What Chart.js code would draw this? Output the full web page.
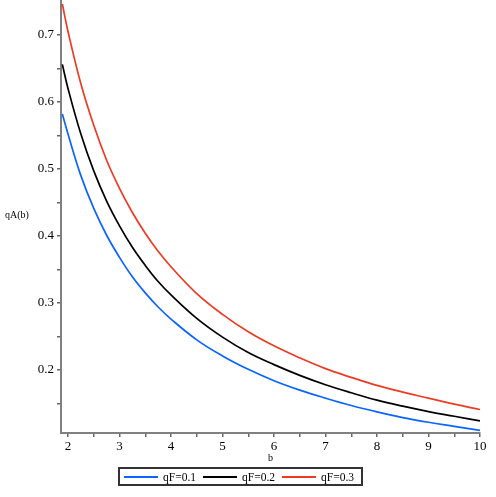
<!DOCTYPE html>
<html>
<head>
<meta charset="utf-8">
<script src="https://cdn.jsdelivr.net/npm/chart.js@4/dist/chart.umd.min.js"></script>
<style>
  html, body { margin: 0; padding: 0; background: #fff; }
  #wrap { position: relative; width: 496px; height: 497px; }
  #legend {
    position: absolute; left: 118px; top: 467px; width: 241px; height: 15px;
    border: 2px solid #333; display: flex; align-items: center;
    font-family: "Liberation Serif", serif; font-size: 11.5px; color: #000;
    white-space: nowrap; overflow: hidden;
  }
  #legend .item { display: flex; align-items: center; margin-left: 4px; margin-right: 3px; }
  #legend .swatch { width: 34px; height: 2px; margin-right: 5px; }
</style>
</head>
<body>
<div id="wrap">
  <canvas id="qa_chart" width="496" height="497"></canvas>
  <div id="legend"></div>
</div>
<script>
// values
const bValues = [1.89, 2, 2.25, 2.5, 2.75, 3, 3.25, 3.5, 3.75, 4, 4.5, 5, 5.5, 6, 6.5, 7, 7.5, 8, 8.5, 9, 9.5, 10];
const qA_01 = [0.582, 0.552, 0.490, 0.441, 0.401, 0.368, 0.339, 0.315, 0.294, 0.276, 0.245, 0.221, 0.201, 0.184, 0.170, 0.158, 0.147, 0.1375, 0.129, 0.122, 0.116, 0.110];
const qA_02 = [0.656, 0.620, 0.552, 0.497, 0.452, 0.415, 0.383, 0.356, 0.332, 0.312, 0.277, 0.249, 0.226, 0.208, 0.192, 0.178, 0.166, 0.155, 0.146, 0.138, 0.131, 0.124];
const qA_03 = [0.746, 0.705, 0.627, 0.565, 0.513, 0.471, 0.435, 0.404, 0.377, 0.354, 0.314, 0.283, 0.257, 0.236, 0.218, 0.202, 0.189, 0.177, 0.167, 0.158, 0.149, 0.141];
const seriesLabels = ["qF=0.1", "qF=0.2", "qF=0.3"];
const seriesColors = ["#0a64ff", "#000000", "#ec3b24"];

const xTicks = [2, 2.5, 3, 3.5, 4, 4.5, 5, 5.5, 6, 6.5, 7, 7.5, 8, 8.5, 9, 9.5, 10];
const yTicks = [0.15, 0.2, 0.25, 0.3, 0.35, 0.4, 0.45, 0.5, 0.55, 0.6, 0.65, 0.7];
const xTickLabels = { 2: "2", 3: "3", 4: "4", 5: "5", 6: "6", 7: "7", 8: "8", 9: "9", 10: "10" };
const yTickLabels = { 0.2: "0.2", 0.3: "0.3", 0.4: "0.4", 0.5: "0.5", 0.6: "0.6", 0.7: "0.7" };

const serif = "'Liberation Serif', 'DejaVu Serif', serif";

function toPoints(ys) {
    return bValues.map((b, i) => ({ x: b, y: ys[i] }));
}

const datasets = [qA_01, qA_02, qA_03].map((ys, i) => ({
    label: seriesLabels[i],
    data: toPoints(ys),
    borderColor: seriesColors[i],
    borderWidth: 1.7,
    pointRadius: 0,
    tension: 0.4,
    fill: false,
}));

// y axis title sits horizontally to the left of the axis
const yTitlePlugin = {
    id: "yTitle",
    afterDraw(chart) {
        const ctx = chart.ctx;
        ctx.save();
        ctx.font = "10px " + serif;
        ctx.fillStyle = "#000";
        ctx.textAlign = "left";
        ctx.textBaseline = "middle";
        ctx.fillText("qA(b)", 5, 215);
        ctx.restore();
    },
};

new Chart(document.getElementById("qa_chart"), {
    type: "line",
    data: { datasets },
    plugins: [yTitlePlugin],
    options: {
        responsive: false,
        animation: false,
        layout: { padding: { top: 0, right: 16, bottom: 32, left: 0 } },
        plugins: { legend: { display: false }, tooltip: { enabled: false } },
        scales: {
            x: {
                type: "linear",
                min: 1.864,
                max: 10,
                afterFit(scale) {
                    scale.height = 32;
                    scale.paddingLeft = 0;
                    scale.paddingRight = 0;
                },
                afterBuildTicks(scale) { scale.ticks = xTicks.map(v => ({ value: v })); },
                border: { color: "#808080", width: 2 },
                grid: { drawOnChartArea: false, color: "#666", lineWidth: 1.5, tickLength: 4 },
                ticks: {
                    padding: 2,
                    maxRotation: 0,
                    autoSkip: false,
                    color: "#000",
                    font: { family: serif, size: 13 },
                    callback: v => xTickLabels[v] || "",
                },
                title: { display: true, text: "b", color: "#000", font: { family: serif, size: 10 }, padding: { top: 0, bottom: 1 } },
            },
            y: {
                min: 0.106,
                max: 0.752,
                afterFit(scale) {
                    scale.width = 61;
                    scale.paddingTop = 0;
                    scale.paddingBottom = 0;
                },
                afterBuildTicks(scale) { scale.ticks = yTicks.map(v => ({ value: v })); },
                border: { color: "#808080", width: 2 },
                grid: { drawOnChartArea: false, color: "#666", lineWidth: 1.5, tickLength: 4 },
                ticks: {
                    padding: 3,
                    autoSkip: false,
                    color: "#000",
                    font: { family: serif, size: 13 },
                    callback: v => yTickLabels[Math.round(v * 100) / 100] || "",
                },
            },
        },
    },
});

// legend built from the same series arrays
const legend = document.getElementById("legend");
seriesLabels.forEach((label, i) => {
    const item = document.createElement("div");
    item.className = "item";
    const sw = document.createElement("span");
    sw.className = "swatch";
    sw.style.background = seriesColors[i];
    const txt = document.createElement("span");
    txt.textContent = label;
    item.appendChild(sw);
    item.appendChild(txt);
    legend.appendChild(item);
});
</script>
</body>
</html>
